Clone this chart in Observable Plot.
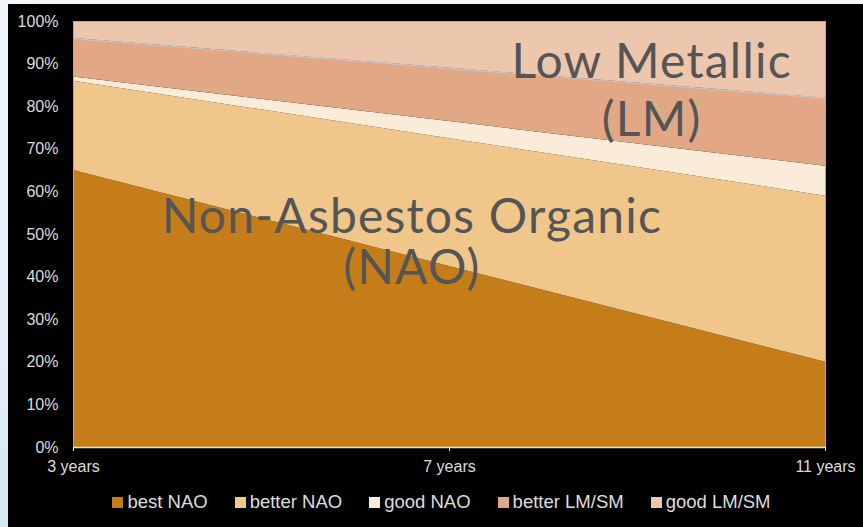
<!DOCTYPE html>
<html>
<head>
<meta charset="utf-8">
<script src="https://cdn.jsdelivr.net/npm/d3@7"></script>
<script src="https://cdn.jsdelivr.net/npm/@observablehq/plot@0.6"></script>
<style>
  html, body { margin: 0; padding: 0; }
  body {
    width: 863px; height: 527px; overflow: hidden;
    background: linear-gradient(to bottom, #f0f6fc 0%, #e6f0f8 60%, #d6e8f2 100%);
    position: relative;
  }
  #panel {
    position: absolute; left: 8px; top: 4px; width: 855px; height: 523px;
    background: #000;
  }
  #legend {
    display: flex; justify-content: center; align-items: center;
    gap: 27px; height: 24px; padding-top: 6px; padding-left: 12px;
    font-family: "Liberation Sans", Arial, sans-serif; font-size: 18.5px; color: #dedede;
  }
  #legend .item { display: flex; align-items: center; gap: 4px; }
  #legend .sw { width: 11px; height: 11px; display: inline-block; }
  .ann text { letter-spacing: 1.2px; }
</style>
</head>
<body>
<div id="panel"><div id="chart"></div><div id="legend"></div></div>
<script>
// ---- data ----
const years = [3, 7, 11];
const seriesNames = ["best NAO", "better NAO", "good NAO", "better LM/SM", "good LM/SM"];
const bestNAO   = [65, 42.5, 20];
const betterNAO = [21, 30, 39];
const goodNAO   = [1, 4, 7];
const betterLM  = [9, 12.5, 16];
const goodLM    = [4, 11, 18];
const yTicks = [0, 10, 20, 30, 40, 50, 60, 70, 80, 90, 100];
const colors = ["#c47d19", "#f0c68a", "#fbecda", "#e2a886", "#ecc6ad"];
const labelNAO = ["Non-Asbestos Organic", "(NAO)"];
const labelLM = ["Low Metallic", "(LM)"];

const seriesValues = [bestNAO, betterNAO, goodNAO, betterLM, goodLM];
const data = [];
seriesNames.forEach((s, i) => years.forEach((yr, j) => data.push({series: s, year: yr, value: seriesValues[i][j]})));

const annFont = "Lato, 'Open Sans', sans-serif";

const chart = Plot.plot({
  width: 855,
  height: 480,
  marginLeft: 65,
  marginRight: 38,
  marginTop: 17,
  marginBottom: 37,
  style: {background: "transparent", fontFamily: "'Liberation Sans', Arial, sans-serif"},
  x: {domain: [3, 11]},
  y: {domain: [0, 100]},
  color: {domain: seriesNames, range: colors},
  marks: [
    Plot.areaY(data, Plot.stackY({x: "year", y: "value", z: "series", order: seriesNames, fill: "series"})),
    Plot.lineY(data, Plot.stackY2({x: "year", y: "value", z: "series", order: seriesNames,
      stroke: "#c4c8cc", strokeWidth: 1.2,
      strokeOpacity: d => d.series === "better LM/SM" ? 1 : 0})),
    Plot.frame({stroke: "#a8a8a8", strokeWidth: 1}),
    Plot.ruleY([0], {stroke: "#eee6d8", strokeWidth: 1.5}),
    Plot.axisY({ticks: yTicks, tickFormat: d => d + "%", tickSize: 0, tickPadding: 15,
      fontSize: 16, fill: "#dcdcdc", label: null}),
    Plot.axisX({ticks: years, tickFormat: d => d + " years", tickSize: 4, tickPadding: 9,
      fontSize: 16, fill: "#dcdcdc", stroke: "#eee", label: null}),
    Plot.text([labelNAO.join("\n")], {x: 6.6, y: 48.3, text: d => d, fontSize: 48, fontFamily: annFont,
      lineHeight: 1.07, className: "ann",
      fill: "#555555", textAnchor: "middle", lineAnchor: "middle"}),
    Plot.text([labelLM.join("\n")], {x: 9.15, y: 84.3, text: d => d, fontSize: 48, fontFamily: annFont,
      lineHeight: 1.2, className: "ann",
      fill: "#555555", textAnchor: "middle", lineAnchor: "middle"})
  ]
});
document.getElementById("chart").appendChild(chart);

const legend = document.getElementById("legend");
seriesNames.forEach((s, i) => {
  const item = document.createElement("div");
  item.className = "item";
  const sw = document.createElement("span");
  sw.className = "sw";
  sw.style.background = colors[i];
  const t = document.createElement("span");
  t.textContent = s;
  item.appendChild(sw); item.appendChild(t);
  legend.appendChild(item);
});
</script>
</body>
</html>
